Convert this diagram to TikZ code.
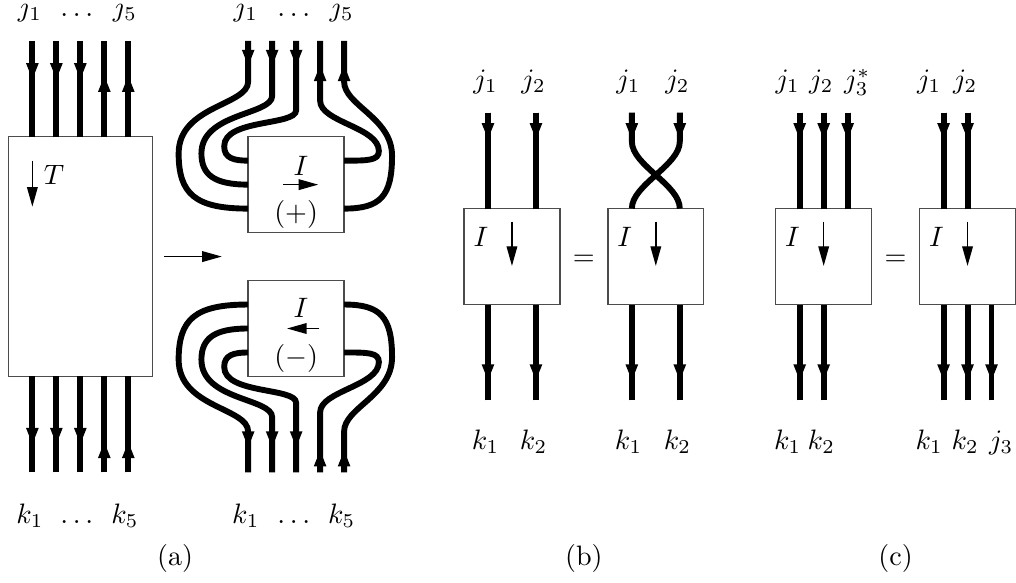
\documentclass[tikz,border=0pt]{standalone}
\usepackage{tikz}
\usepackage{amsmath}
\usepackage{amssymb}
\usetikzlibrary{arrows.meta}

\begin{document}
\begin{tikzpicture}[
        x=0.3cm, y=0.3cm,
        >={Triangle[length=6pt, width=4pt]},
        box/.style={rectangle, draw=black!70, line width=0.5pt, inner sep=0pt, outer sep=0pt, minimum width=1.2cm, minimum height=1.2cm},
        big_box/.style={box, minimum width=1.8cm, minimum height=3cm},
        wire/.style={line width=2.1pt},
        flow/.style={line width=0.5pt, -{Triangle[length=7pt, width=3.8pt]}},
        index_label/.style={anchor=base, inner sep=0pt}
    ]
        \useasboundingbox (-0.35,-13.61) rectangle (42.02,10.7);

        % (a) tensor T
        \node[big_box] (T) at (3,0) {};
        \node (T_name) at (1.9,3.4) {$T$};
        \draw[flow] (1,4) -- (1,2.08);

        % wires of T
        \coordinate (ta1) at (1,9);
        \coordinate (ta2) at (2,9);
        \coordinate (ta3) at (3,9);
        \coordinate (ta4) at (4,9);
        \coordinate (ta5) at (5,9);
        \coordinate (tb1) at (1,-9);
        \coordinate (tb2) at (2,-9);
        \coordinate (tb3) at (3,-9);
        \coordinate (tb4) at (4,-9);
        \coordinate (tb5) at (5,-9);
        \draw[wire] (ta1) -- (ta1 |- T.north) (ta2) -- (ta2 |- T.north) (ta3) -- (ta3 |- T.north) (ta4) -- (ta4 |- T.north) (ta5) -- (ta5 |- T.north);
        \draw[wire] (tb1) -- (tb1 |- T.south) (tb2) -- (tb2 |- T.south) (tb3) -- (tb3 |- T.south) (tb4) -- (tb4 |- T.south) (tb5) -- (tb5 |- T.south);
        \draw[wire,->] (ta1) -- ++(0,-1.64);
        \draw[wire,->] (ta2) -- ++(0,-1.64);
        \draw[wire,->] (ta3) -- ++(0,-1.64);
        \draw[wire,->] (ta4 |- T.north) -- ++(0,2.57);
        \draw[wire,->] (ta5 |- T.north) -- ++(0,2.57);
        \draw[wire,->] (tb1 |- T.south) -- ++(0,-2.85);
        \draw[wire,->] (tb2 |- T.south) -- ++(0,-2.85);
        \draw[wire,->] (tb3 |- T.south) -- ++(0,-2.85);
        \draw[wire,->] (tb4) -- ++(0,1.3);
        \draw[wire,->] (tb5) -- ++(0,1.3);

        % indices of T
        \node[index_label] (T_j1) at (0.9,10) {$j_1$};
        \node[index_label] (T_jdots) at (2.85,10) {$\ldots$};
        \node[index_label] (T_j5) at (4.86,10) {$j_5$};
        \node[index_label] (T_k1) at (0.9,-11.13) {$k_1$};
        \node[index_label] (T_kdots) at (2.85,-11.13) {$\ldots$};
        \node[index_label] (T_k5) at (4.86,-11.13) {$k_5$};

        % arrow between
        \coordinate (step_end) at (8.9,0);
        \draw[flow] ([xshift=0.15cm]T.east) -- (step_end);

        % (a) intertwiners I (+) and I (-)
        \node[box] (I_plus) at (12,3) {};
        \node (I_plus_name) at (12.2,3.79) {$I$};
        \draw[flow] (11.46,3) -- (12.92,3);
        \node (I_plus_sign) at (12,1.74) {$(+)$};

        \node[box] (I_minus) at (12,-3) {};
        \node (I_minus_name) at (12.2,-2.15) {$I$};
        \draw[flow] (12.97,-3) -- (11.62,-3);
        \node (I_minus_sign) at (12,-4.23) {$(-)$};

        % wires of I (+)
        \coordinate (pa1) at (10,9);
        \coordinate (pa2) at (11,9);
        \coordinate (pa3) at (12,9);
        \coordinate (pa4) at (13,9);
        \coordinate (pa5) at (14,9);
        \draw[wire] (pa1) -- (10,7.3) .. controls (10,6.3) and (7.1,6.3) .. (7.1,4.3) .. controls (7.1,2.6) and (7.8,2) .. ([yshift=-0.3cm]I_plus.west);
        \draw[wire] (pa2) -- (11,6.7) .. controls (11,5.9) and (8.05,6) .. (8.05,4.3) .. controls (8.05,3.4) and (8.6,3) .. (I_plus.west);
        \draw[wire] (pa3) -- (12,6.1) .. controls (12,5.45) and (9,5.75) .. (9,4.6) .. controls (9,4.1) and (9.4,4) .. ([yshift=0.3cm]I_plus.west);
        \draw[wire] (pa4) -- (13,6.5) .. controls (13,5.6) and (15.45,5.4) .. (15.45,4.4) .. controls (15.45,4) and (15,4) .. ([yshift=0.3cm]I_plus.east);
        \draw[wire] (pa5) -- (14,7.3) .. controls (14,6.3) and (16,5.8) .. (16,4.2) .. controls (16,2.5) and (15.5,2) .. ([yshift=-0.3cm]I_plus.east);
        \draw[wire,->] (pa1) -- (10,7.92);
        \draw[wire,->] (pa2) -- (11,7.92);
        \draw[wire,->] (pa3) -- (12,7.92);
        \draw[wire,->] (13,7.3) -- (13,8.02);
        \draw[wire,->] (14,7.3) -- (14,8.02);

        % wires of I (-)
        \coordinate (pb1) at (10,-9);
        \coordinate (pb2) at (11,-9);
        \coordinate (pb3) at (12,-9);
        \coordinate (pb4) at (13,-9);
        \coordinate (pb5) at (14,-9);
        \draw[wire] (pb1) -- (10,-7.3) .. controls (10,-6.3) and (7.1,-6.3) .. (7.1,-4.3) .. controls (7.1,-2.6) and (7.8,-2) .. ([yshift=0.3cm]I_minus.west);
        \draw[wire] (pb2) -- (11,-6.7) .. controls (11,-5.9) and (8.05,-6) .. (8.05,-4.3) .. controls (8.05,-3.4) and (8.6,-3) .. (I_minus.west);
        \draw[wire] (pb3) -- (12,-6.1) .. controls (12,-5.45) and (9,-5.75) .. (9,-4.6) .. controls (9,-4.1) and (9.4,-4) .. ([yshift=-0.3cm]I_minus.west);
        \draw[wire] (pb4) -- (13,-6.5) .. controls (13,-5.6) and (15.45,-5.4) .. (15.45,-4.4) .. controls (15.45,-4) and (15,-4) .. ([yshift=-0.3cm]I_minus.east);
        \draw[wire] (pb5) -- (14,-7.3) .. controls (14,-6.3) and (16,-5.8) .. (16,-4.2) .. controls (16,-2.5) and (15.5,-2) .. ([yshift=0.3cm]I_minus.east);
        \draw[wire,->] (10,-7.3) -- (10,-7.99);
        \draw[wire,->] (11,-6.7) -- (11,-7.99);
        \draw[wire,->] (12,-6.1) -- (12,-7.99);
        \draw[wire,->] (pb4) -- (13,-8.05);
        \draw[wire,->] (pb5) -- (14,-8.05);

        % indices of I (+) and I (-)
        \node[index_label] (P_j1) at (9.9,10) {$j_1$};
        \node[index_label] (P_jdots) at (11.9,10) {$\ldots$};
        \node[index_label] (P_j5) at (13.9,10) {$j_5$};
        \node[index_label] (P_k1) at (9.9,-11.13) {$k_1$};
        \node[index_label] (P_kdots) at (11.9,-11.13) {$\ldots$};
        \node[index_label] (P_k5) at (13.9,-11.13) {$k_5$};

        % (b) swapping the inputs
        \node[box] (Ib1) at (21,0) {};
        \node (Ib1_name) at (19.7,0.8) {$I$};
        \draw[flow] (21,1.46) -- (21,-0.39);
        \coordinate (ba1) at (20,6);
        \coordinate (ba2) at (22,6);
        \coordinate (bb1) at (20,-6);
        \coordinate (bb2) at (22,-6);
        \draw[wire] (ba1) -- (ba1 |- Ib1.north) (ba2) -- (ba2 |- Ib1.north);
        \draw[wire] (bb1) -- (bb1 |- Ib1.south) (bb2) -- (bb2 |- Ib1.south);
        \draw[wire,->] (ba1) -- (20,4.86);
        \draw[wire,->] (ba2) -- (22,4.86);
        \draw[wire,->] (ba1 |- Ib1.south) -- (20,-5.2);
        \draw[wire,->] (ba2 |- Ib1.south) -- (22,-5.2);

        \node (eq_b) at (24,-0.17) {$=$};

        \node[box] (Ib2) at (27,0) {};
        \node (Ib2_name) at (25.7,0.8) {$I$};
        \draw[flow] (27,1.46) -- (27,-0.39);
        \coordinate (ca1) at (26,6);
        \coordinate (ca2) at (28,6);
        \coordinate (cb1) at (26,-6);
        \coordinate (cb2) at (28,-6);
        \draw[wire] (ca1) -- (26,4.8) .. controls (26,3.8) and (28,3) .. (ca2 |- Ib2.north);
        \draw[wire] (ca2) -- (28,4.8) .. controls (28,3.8) and (26,3) .. (ca1 |- Ib2.north);
        \draw[wire] (cb1) -- (cb1 |- Ib2.south) (cb2) -- (cb2 |- Ib2.south);
        \draw[wire,->] (ca1) -- (26,4.86);
        \draw[wire,->] (ca2) -- (28,4.86);
        \draw[wire,->] (ca1 |- Ib2.south) -- (26,-5.2);
        \draw[wire,->] (ca2 |- Ib2.south) -- (28,-5.2);

        % indices of (b)
        \node[index_label] (B_j1) at (19.9,7) {$j_1$};
        \node[index_label] (B_j2) at (21.9,7) {$j_2$};
        \node[index_label] (B_k1) at (19.9,-8.05) {$k_1$};
        \node[index_label] (B_k2) at (21.9,-8.05) {$k_2$};
        \node[index_label] (C_j1) at (25.86,7) {$j_1$};
        \node[index_label] (C_j2) at (27.9,7) {$j_2$};
        \node[index_label] (C_k1) at (25.86,-8.05) {$k_1$};
        \node[index_label] (C_k2) at (27.9,-8.05) {$k_2$};

        % (c) moving a leg down
        \node[box] (Ic1) at (34,0) {};
        \node (Ic1_name) at (32.7,0.8) {$I$};
        \draw[flow] (34,1.46) -- (34,-0.39);
        \coordinate (da1) at (33,6);
        \coordinate (da2) at (34,6);
        \coordinate (da3) at (35,6);
        \coordinate (db1) at (33,-6);
        \coordinate (db2) at (34,-6);
        \draw[wire] (da1) -- (da1 |- Ic1.north) (da2) -- (da2 |- Ic1.north) (da3) -- (da3 |- Ic1.north);
        \draw[wire] (db1) -- (db1 |- Ic1.south) (db2) -- (db2 |- Ic1.south);
        \draw[wire,->] (da1) -- (33,4.86);
        \draw[wire,->] (da2) -- (34,4.86);
        \draw[wire,->] (da3) -- (35,4.86);
        \draw[wire,->] (da1 |- Ic1.south) -- (33,-5.2);
        \draw[wire,->] (da2 |- Ic1.south) -- (34,-5.2);

        \node (eq_c) at (37,-0.17) {$=$};

        \node[box] (Ic2) at (40,0) {};
        \node (Ic2_name) at (38.7,0.8) {$I$};
        \draw[flow] (40,1.46) -- (40,-0.39);
        \coordinate (ea1) at (39,6);
        \coordinate (ea2) at (40,6);
        \coordinate (eb1) at (39,-6);
        \coordinate (eb2) at (40,-6);
        \coordinate (eb3) at (41,-6);
        \draw[wire] (ea1) -- (ea1 |- Ic2.north) (ea2) -- (ea2 |- Ic2.north);
        \draw[wire] (eb1) -- (eb1 |- Ic2.south) (eb2) -- (eb2 |- Ic2.south) (eb3) -- (eb3 |- Ic2.south);
        \draw[wire,->] (ea1) -- (39,4.86);
        \draw[wire,->] (ea2) -- (40,4.86);
        \draw[wire,->] (eb1 |- Ic2.south) -- (39,-5.2);
        \draw[wire,->] (eb2 |- Ic2.south) -- (40,-5.2);
        \draw[wire,->] (eb3 |- Ic2.south) -- (41,-5.2);

        % indices of (c)
        \node[index_label] (D_j1) at (32.5,7) {$j_1$};
        \node[index_label] (D_j2) at (33.9,7) {$j_2$};
        \node[index_label] (D_j3) at (35.4,7) {$j_3^*$};
        \node[index_label] (D_k1) at (32.5,-8.05) {$k_1$};
        \node[index_label] (D_k2) at (33.9,-8.05) {$k_2$};
        \node[index_label] (E_j1) at (38.4,7) {$j_1$};
        \node[index_label] (E_j2) at (39.9,7) {$j_2$};
        \node[index_label] (E_k1) at (38.4,-8.05) {$k_1$};
        \node[index_label] (E_k2) at (39.9,-8.05) {$k_2$};
        \node[index_label] (E_j3) at (41.4,-8.05) {$j_3$};

        % captions
        \node[index_label] (cap_a) at (6.95,-12.9) {(a)};
        \node[index_label] (cap_b) at (24,-12.9) {(b)};
        \node[index_label] (cap_c) at (37,-12.9) {(c)};

    \end{tikzpicture}
\end{document}
